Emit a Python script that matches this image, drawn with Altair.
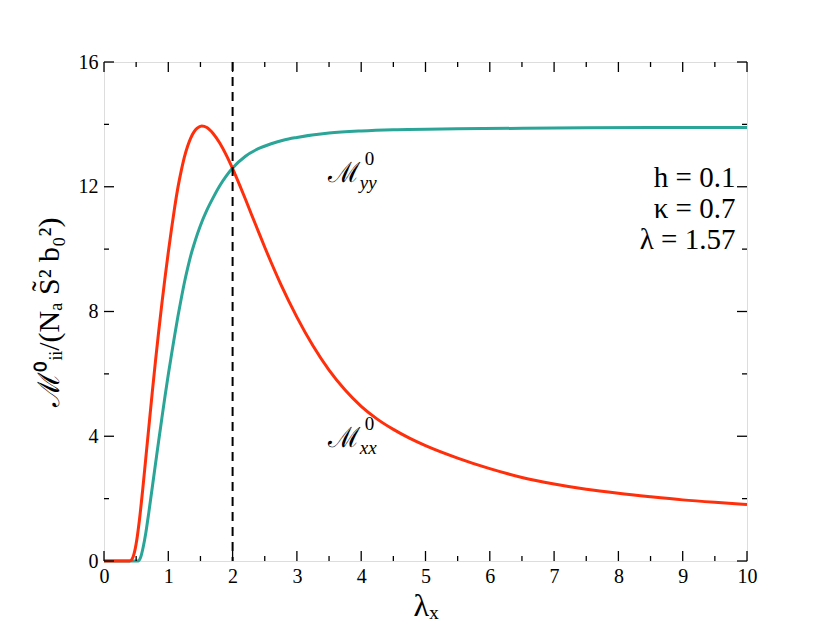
import altair as alt
import pandas as pd

# ---- data ----
lam_xx = [0, 0.40, 0.45, 0.50, 0.55, 0.60, 0.65, 0.70, 0.75, 0.80, 0.85, 0.90, 0.95, 1.00, 1.05, 1.10,
          1.15, 1.20, 1.25, 1.30, 1.35, 1.40, 1.45, 1.52, 1.60, 1.70, 1.80, 1.90, 2.0, 2.1, 2.2, 2.3,
          2.4, 2.5, 2.6, 2.75, 3.0, 3.25, 3.5, 3.75, 4.0, 4.25, 4.5, 4.75, 5.0, 5.5, 6.0, 6.5, 7.0,
          7.5, 8.0, 8.5, 9.0, 9.5, 10.0]
m_xx = [0, 0, 0.12, 0.55, 1.3, 2.25, 3.3, 4.35, 5.4, 6.4, 7.35, 8.25, 9.1, 9.9, 10.65, 11.35,
        11.98, 12.5, 12.95, 13.3, 13.57, 13.76, 13.88, 13.95, 13.9, 13.7, 13.4, 13.02, 12.58, 12.1, 11.6, 11.08,
        10.57, 10.06, 9.57, 8.87, 7.82, 6.9, 6.12, 5.48, 4.96, 4.55, 4.22, 3.94, 3.7, 3.3, 2.96, 2.68, 2.47,
        2.3, 2.17, 2.06, 1.96, 1.88, 1.81]

lam_yy = [0, 0.53, 0.57, 0.61, 0.65, 0.70, 0.75, 0.80, 0.85, 0.90, 0.95, 1.00, 1.05, 1.10, 1.15, 1.20,
          1.25, 1.30, 1.35, 1.40, 1.45, 1.50, 1.60, 1.70, 1.80, 1.90, 2.0, 2.2, 2.4, 2.6, 2.8, 3.0,
          3.5, 4.0, 4.5, 5.5, 7.0, 8.5, 10.0]
m_yy = [0, 0, 0.12, 0.45, 0.9, 1.6, 2.35, 3.1, 3.85, 4.58, 5.3, 5.98, 6.62, 7.25, 7.85, 8.4,
        8.92, 9.38, 9.8, 10.15, 10.47, 10.76, 11.25, 11.66, 12.03, 12.34, 12.6, 12.98, 13.22, 13.38, 13.5, 13.58,
        13.72, 13.79, 13.83, 13.86, 13.88, 13.9, 13.9]

x_major = list(range(0, 11))
x_minor = [i + 0.5 for i in range(10)]
y_major = [0, 4, 8, 12, 16]
y_minor = [2, 6, 10, 14]
vline_x = [2]

param_text = ["h = 0.1", "κ = 0.7", "λ = 1.57"]
param_x = [9.82, 9.82, 9.82]
param_y = [12.0, 11.0, 10.0]

lab_x = [3.48, 3.48]
lab_y = [12.15, 3.65]
lab_sub = ["yy", "xx"]

W, H = 643, 499
RED = "#ff2f0c"
TEAL = "#2aa597"
SERIF = "Liberation Serif, serif"

xs = alt.Scale(domain=[0, 10], nice=False)
ys = alt.Scale(domain=[0, 16], nice=False)

df_xx = pd.DataFrame({"lam": lam_xx, "m": m_xx})
df_yy = pd.DataFrame({"lam": lam_yy, "m": m_yy})

xaxis = alt.Axis(values=x_major, format="d", ticks=False, domain=False, grid=False, labelFont=SERIF,
                 labelFontSize=20, labelColor="black", labelPadding=5, title="λₓ",
                 titleFont=SERIF, titleFontSize=32, titleFontWeight="normal", titlePadding=4,
                 titleColor="black", labelFlush=False)
yaxis = alt.Axis(values=y_major, format="d", ticks=False, domain=False, grid=False, labelFont=SERIF,
                 labelFontSize=20, labelColor="black", labelPadding=6,
                 title="ℳ⁰ᵢᵢ/(Nₐ S̃² b₀²)", titleFont=SERIF, titleFontSize=30,
                 titleFontWeight="normal", titlePadding=14, titleColor="black")

line_yy = alt.Chart(df_yy).mark_line(color=TEAL, strokeWidth=3, interpolate="monotone").encode(
    x=alt.X("lam:Q", scale=xs, axis=xaxis),
    y=alt.Y("m:Q", scale=ys, axis=yaxis),
)
line_xx = alt.Chart(df_xx).mark_line(color=RED, strokeWidth=3, interpolate="monotone").encode(
    x=alt.X("lam:Q", scale=xs),
    y=alt.Y("m:Q", scale=ys),
)

vline = alt.Chart(pd.DataFrame({"v": vline_x})).mark_rule(
    color="black", strokeWidth=2, strokeDash=[9, 6]).encode(
    x=alt.X("v:Q", scale=xs), y=alt.value(0), y2=alt.value(H))

def xticks(vals, length):
    d = pd.DataFrame({"t": vals})
    b = alt.Chart(d).mark_rule(color="black", strokeWidth=1.3)
    return (b.encode(x=alt.X("t:Q", scale=xs), y=alt.value(H - length), y2=alt.value(H)) +
            b.encode(x=alt.X("t:Q", scale=xs), y=alt.value(0), y2=alt.value(length)))

def yticks(vals, length):
    d = pd.DataFrame({"t": vals})
    b = alt.Chart(d).mark_rule(color="black", strokeWidth=1.3)
    return (b.encode(y=alt.Y("t:Q", scale=ys), x=alt.value(0), x2=alt.value(length)) +
            b.encode(y=alt.Y("t:Q", scale=ys), x=alt.value(W - length), x2=alt.value(W)))

ticks = xticks(x_major, 10) + xticks(x_minor, 5) + yticks(y_major, 10) + yticks(y_minor, 5)

params = alt.Chart(pd.DataFrame({"x": param_x, "y": param_y, "t": param_text})).mark_text(
    align="right", baseline="alphabetic", font=SERIF, fontSize=29, color="black").encode(
    x=alt.X("x:Q", scale=xs), y=alt.Y("y:Q", scale=ys), text="t:N")

df_lab = pd.DataFrame({"x": lab_x, "y": lab_y, "sub": lab_sub, "M": ["ℳ", "ℳ"], "sup": ["0", "0"]})
lab_M = alt.Chart(df_lab).mark_text(align="left", baseline="alphabetic", font="DejaVu Serif",
                                    fontSize=28, color="black").encode(
    x=alt.X("x:Q", scale=xs), y=alt.Y("y:Q", scale=ys), text="M:N")
lab_sup = alt.Chart(df_lab).mark_text(align="left", baseline="alphabetic", font=SERIF,
                                      fontSize=19, color="black", dx=37, dy=-17).encode(
    x=alt.X("x:Q", scale=xs), y=alt.Y("y:Q", scale=ys), text="sup:N")
lab_sub_m = alt.Chart(df_lab).mark_text(align="left", baseline="alphabetic", font=SERIF,
                                        fontSize=19, fontStyle="italic", color="black",
                                        dx=32, dy=7).encode(
    x=alt.X("x:Q", scale=xs), y=alt.Y("y:Q", scale=ys), text="sub:N")

chart = alt.layer(line_yy, line_xx, vline, ticks, params, lab_M, lab_sup, lab_sub_m).properties(
    width=W, height=H,
    autosize=alt.AutoSizeParams(type="none"),
    padding={"left": 96, "top": 54, "right": 75, "bottom": 60},
).configure_view(stroke="black", strokeWidth=1.5).configure(background="white")

chart.save("out.html", embed_options={"renderer": "svg", "actions": False})
